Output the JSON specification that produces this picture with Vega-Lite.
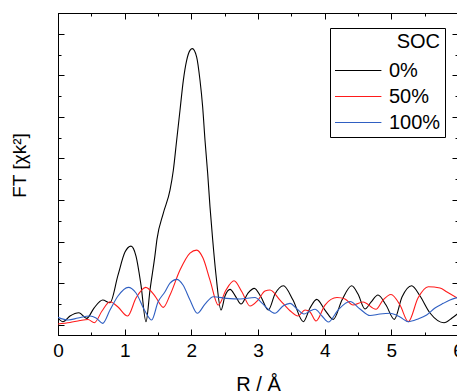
{
  "$schema": "https://vega.github.io/schema/vega-lite/v6.json",
  "autosize": "none",
  "padding": {"left": 58, "top": 13, "right": 0, "bottom": 57},
  "width": 400,
  "height": 322,
  "background": "white",
  "config": {
    "font": "Liberation Sans",
    "view": {"stroke": "black", "strokeWidth": 1},
    "axis": {"domainColor": "black", "tickColor": "black", "labelColor": "black", "titleColor": "black", "grid": false, "labelFont": "Liberation Sans", "titleFont": "Liberation Sans", "titleFontWeight": "normal"}
  },
  "data": {"values": [
    {"R": 0, "FT": 0.159, "SOC": "0%"},
    {"R": 0.075, "FT": 0.07, "SOC": "0%"},
    {"R": 0.18, "FT": 0.207, "SOC": "0%"},
    {"R": 0.315, "FT": 0.286, "SOC": "0%"},
    {"R": 0.431, "FT": 0.151, "SOC": "0%"},
    {"R": 0.54, "FT": 0.399, "SOC": "0%"},
    {"R": 0.671, "FT": 0.591, "SOC": "0%"},
    {"R": 0.78, "FT": 0.526, "SOC": "0%"},
    {"R": 0.9, "FT": 1.192, "SOC": "0%"},
    {"R": 1.005, "FT": 1.745, "SOC": "0%"},
    {"R": 1.095, "FT": 1.889, "SOC": "0%"},
    {"R": 1.17, "FT": 1.649, "SOC": "0%"},
    {"R": 1.245, "FT": 0.952, "SOC": "0%"},
    {"R": 1.32, "FT": 0.07, "SOC": "0%"},
    {"R": 1.38, "FT": 0.832, "SOC": "0%"},
    {"R": 1.455, "FT": 1.673, "SOC": "0%"},
    {"R": 1.485, "FT": 2.058, "SOC": "0%"},
    {"R": 1.58, "FT": 2.683, "SOC": "0%"},
    {"R": 1.68, "FT": 3.236, "SOC": "0%"},
    {"R": 1.73, "FT": 3.716, "SOC": "0%"},
    {"R": 1.78, "FT": 4.438, "SOC": "0%"},
    {"R": 1.83, "FT": 5.159, "SOC": "0%"},
    {"R": 1.88, "FT": 5.88, "SOC": "0%"},
    {"R": 1.93, "FT": 6.361, "SOC": "0%"},
    {"R": 1.98, "FT": 6.601, "SOC": "0%"},
    {"R": 2.015, "FT": 6.642, "SOC": "0%"},
    {"R": 2.08, "FT": 6.44, "SOC": "0%"},
    {"R": 2.13, "FT": 5.88, "SOC": "0%"},
    {"R": 2.17, "FT": 5.238, "SOC": "0%"},
    {"R": 2.205, "FT": 4.438, "SOC": "0%"},
    {"R": 2.245, "FT": 3.644, "SOC": "0%"},
    {"R": 2.28, "FT": 2.834, "SOC": "0%"},
    {"R": 2.32, "FT": 2.05, "SOC": "0%"},
    {"R": 2.37, "FT": 1.194, "SOC": "0%"},
    {"R": 2.445, "FT": 0.351, "SOC": "0%"},
    {"R": 2.505, "FT": 0.688, "SOC": "0%"},
    {"R": 2.58, "FT": 0.849, "SOC": "0%"},
    {"R": 2.67, "FT": 0.663, "SOC": "0%"},
    {"R": 2.745, "FT": 0.495, "SOC": "0%"},
    {"R": 2.85, "FT": 0.76, "SOC": "0%"},
    {"R": 2.945, "FT": 0.873, "SOC": "0%"},
    {"R": 3.045, "FT": 0.663, "SOC": "0%"},
    {"R": 3.155, "FT": 0.351, "SOC": "0%"},
    {"R": 3.255, "FT": 0.736, "SOC": "0%"},
    {"R": 3.38, "FT": 0.935, "SOC": "0%"},
    {"R": 3.525, "FT": 0.591, "SOC": "0%"},
    {"R": 3.68, "FT": 0.07, "SOC": "0%"},
    {"R": 3.78, "FT": 0.399, "SOC": "0%"},
    {"R": 3.88, "FT": 0.608, "SOC": "0%"},
    {"R": 4.005, "FT": 0.351, "SOC": "0%"},
    {"R": 4.13, "FT": 0.127, "SOC": "0%"},
    {"R": 4.26, "FT": 0.591, "SOC": "0%"},
    {"R": 4.405, "FT": 0.935, "SOC": "0%"},
    {"R": 4.5, "FT": 0.736, "SOC": "0%"},
    {"R": 4.605, "FT": 0.375, "SOC": "0%"},
    {"R": 4.695, "FT": 0.54, "SOC": "0%"},
    {"R": 4.8, "FT": 0.712, "SOC": "0%"},
    {"R": 4.92, "FT": 0.471, "SOC": "0%"},
    {"R": 5.045, "FT": 0.127, "SOC": "0%"},
    {"R": 5.16, "FT": 0.663, "SOC": "0%"},
    {"R": 5.305, "FT": 0.935, "SOC": "0%"},
    {"R": 5.43, "FT": 0.688, "SOC": "0%"},
    {"R": 5.58, "FT": 0.279, "SOC": "0%"},
    {"R": 5.79, "FT": 0.046, "SOC": "0%"},
    {"R": 5.91, "FT": 0.159, "SOC": "0%"},
    {"R": 6.0, "FT": 0.27, "SOC": "0%"},
    {"R": 0, "FT": 0.014, "SOC": "50%"},
    {"R": 0.18, "FT": 0.05, "SOC": "50%"},
    {"R": 0.33, "FT": 0.099, "SOC": "50%"},
    {"R": 0.45, "FT": 0.123, "SOC": "50%"},
    {"R": 0.545, "FT": 0.046, "SOC": "50%"},
    {"R": 0.66, "FT": 0.327, "SOC": "50%"},
    {"R": 0.78, "FT": 0.55, "SOC": "50%"},
    {"R": 0.9, "FT": 0.423, "SOC": "50%"},
    {"R": 1.045, "FT": 0.207, "SOC": "50%"},
    {"R": 1.17, "FT": 0.639, "SOC": "50%"},
    {"R": 1.315, "FT": 0.897, "SOC": "50%"},
    {"R": 1.455, "FT": 0.688, "SOC": "50%"},
    {"R": 1.58, "FT": 0.416, "SOC": "50%"},
    {"R": 1.68, "FT": 0.712, "SOC": "50%"},
    {"R": 1.83, "FT": 1.313, "SOC": "50%"},
    {"R": 1.98, "FT": 1.721, "SOC": "50%"},
    {"R": 2.08, "FT": 1.793, "SOC": "50%"},
    {"R": 2.175, "FT": 1.601, "SOC": "50%"},
    {"R": 2.28, "FT": 1.072, "SOC": "50%"},
    {"R": 2.405, "FT": 0.471, "SOC": "50%"},
    {"R": 2.52, "FT": 0.832, "SOC": "50%"},
    {"R": 2.64, "FT": 1.055, "SOC": "50%"},
    {"R": 2.76, "FT": 0.784, "SOC": "50%"},
    {"R": 2.88, "FT": 0.447, "SOC": "50%"},
    {"R": 3.0, "FT": 0.591, "SOC": "50%"},
    {"R": 3.105, "FT": 0.808, "SOC": "50%"},
    {"R": 3.18, "FT": 0.832, "SOC": "50%"},
    {"R": 3.33, "FT": 0.591, "SOC": "50%"},
    {"R": 3.48, "FT": 0.334, "SOC": "50%"},
    {"R": 3.6, "FT": 0.207, "SOC": "50%"},
    {"R": 3.705, "FT": 0.351, "SOC": "50%"},
    {"R": 3.78, "FT": 0.303, "SOC": "50%"},
    {"R": 3.87, "FT": 0.087, "SOC": "50%"},
    {"R": 4.005, "FT": 0.471, "SOC": "50%"},
    {"R": 4.185, "FT": 0.651, "SOC": "50%"},
    {"R": 4.305, "FT": 0.615, "SOC": "50%"},
    {"R": 4.425, "FT": 0.471, "SOC": "50%"},
    {"R": 4.575, "FT": 0.543, "SOC": "50%"},
    {"R": 4.77, "FT": 0.368, "SOC": "50%"},
    {"R": 4.875, "FT": 0.591, "SOC": "50%"},
    {"R": 4.995, "FT": 0.724, "SOC": "50%"},
    {"R": 5.13, "FT": 0.471, "SOC": "50%"},
    {"R": 5.255, "FT": 0.07, "SOC": "50%"},
    {"R": 5.4, "FT": 0.639, "SOC": "50%"},
    {"R": 5.555, "FT": 0.911, "SOC": "50%"},
    {"R": 5.73, "FT": 0.88, "SOC": "50%"},
    {"R": 5.835, "FT": 0.784, "SOC": "50%"},
    {"R": 6.0, "FT": 0.632, "SOC": "50%"},
    {"R": 0, "FT": 0.175, "SOC": "100%"},
    {"R": 0.155, "FT": 0.111, "SOC": "100%"},
    {"R": 0.3, "FT": 0.159, "SOC": "100%"},
    {"R": 0.48, "FT": 0.207, "SOC": "100%"},
    {"R": 0.57, "FT": 0.159, "SOC": "100%"},
    {"R": 0.67, "FT": 0.031, "SOC": "100%"},
    {"R": 0.78, "FT": 0.351, "SOC": "100%"},
    {"R": 0.9, "FT": 0.688, "SOC": "100%"},
    {"R": 1.055, "FT": 0.897, "SOC": "100%"},
    {"R": 1.17, "FT": 0.76, "SOC": "100%"},
    {"R": 1.305, "FT": 0.327, "SOC": "100%"},
    {"R": 1.405, "FT": 0.111, "SOC": "100%"},
    {"R": 1.5, "FT": 0.543, "SOC": "100%"},
    {"R": 1.605, "FT": 0.791, "SOC": "100%"},
    {"R": 1.68, "FT": 1.0, "SOC": "100%"},
    {"R": 1.78, "FT": 1.089, "SOC": "100%"},
    {"R": 1.875, "FT": 0.952, "SOC": "100%"},
    {"R": 1.98, "FT": 0.591, "SOC": "100%"},
    {"R": 2.09, "FT": 0.272, "SOC": "100%"},
    {"R": 2.205, "FT": 0.495, "SOC": "100%"},
    {"R": 2.33, "FT": 0.671, "SOC": "100%"},
    {"R": 2.53, "FT": 0.632, "SOC": "100%"},
    {"R": 2.73, "FT": 0.615, "SOC": "100%"},
    {"R": 2.955, "FT": 0.651, "SOC": "100%"},
    {"R": 3.06, "FT": 0.519, "SOC": "100%"},
    {"R": 3.15, "FT": 0.375, "SOC": "100%"},
    {"R": 3.255, "FT": 0.272, "SOC": "100%"},
    {"R": 3.375, "FT": 0.447, "SOC": "100%"},
    {"R": 3.48, "FT": 0.512, "SOC": "100%"},
    {"R": 3.585, "FT": 0.375, "SOC": "100%"},
    {"R": 3.69, "FT": 0.255, "SOC": "100%"},
    {"R": 3.78, "FT": 0.327, "SOC": "100%"},
    {"R": 3.855, "FT": 0.368, "SOC": "100%"},
    {"R": 3.96, "FT": 0.207, "SOC": "100%"},
    {"R": 4.055, "FT": 0.063, "SOC": "100%"},
    {"R": 4.2, "FT": 0.351, "SOC": "100%"},
    {"R": 4.38, "FT": 0.555, "SOC": "100%"},
    {"R": 4.53, "FT": 0.375, "SOC": "100%"},
    {"R": 4.68, "FT": 0.219, "SOC": "100%"},
    {"R": 4.83, "FT": 0.255, "SOC": "100%"},
    {"R": 4.98, "FT": 0.272, "SOC": "100%"},
    {"R": 5.13, "FT": 0.183, "SOC": "100%"},
    {"R": 5.255, "FT": 0.07, "SOC": "100%"},
    {"R": 5.4, "FT": 0.135, "SOC": "100%"},
    {"R": 5.53, "FT": 0.231, "SOC": "100%"},
    {"R": 5.655, "FT": 0.399, "SOC": "100%"},
    {"R": 5.78, "FT": 0.512, "SOC": "100%"},
    {"R": 5.88, "FT": 0.591, "SOC": "100%"},
    {"R": 6.0, "FT": 0.656, "SOC": "100%"}
  ]},
  "layer": [
    {
      "mark": {"type": "line", "interpolate": "monotone", "strokeWidth": 1.1, "clip": true},
      "encoding": {
        "x": {"field": "R", "type": "quantitative", "scale": {"domain": [0, 6], "nice": false},
          "axis": {"orient": "bottom", "title": "R / Å", "titleFontSize": 20, "titlePadding": 11, "labelFontSize": 19, "labelPadding": 12, "labelFlush": false, "labelOverlap": false,
            "values": [0, 0.5, 1, 1.5, 2, 2.5, 3, 3.5, 4, 4.5, 5, 5.5, 6],
            "labelExpr": "datum.value % 1 === 0 ? format(datum.value, 'd') : ''",
            "tickSize": {"condition": {"test": "datum.value % 1 === 0", "value": -6}, "value": -3}}},
        "y": {"field": "FT", "type": "quantitative", "scale": {"domain": [-0.25, 7.5], "nice": false, "zero": false},
          "axis": {"orient": "left", "title": "FT [χk²]", "titleFontSize": 19, "titlePadding": 28, "titleY": 152, "labels": false,
            "values": [0, 0.5, 1, 1.5, 2, 2.5, 3, 3.5, 4, 4.5, 5, 5.5, 6, 6.5, 7, 7.5],
            "tickSize": {"condition": {"test": "datum.value % 1 === 0", "value": -6}, "value": -3}}},
        "color": {"field": "SOC", "type": "nominal", "sort": ["0%", "50%", "100%"],
          "scale": {"domain": ["0%", "50%", "100%"], "range": ["#000000", "#ff1a1a", "#2f5fc2"]},
          "legend": {"orient": "none", "legendX": 272, "legendY": 15, "title": "SOC  ", "titleFontSize": 20, "titleFont": "Liberation Sans", "titleFontWeight": "normal", "titleAnchor": "end", "titleColor": "black",
            "labelFontSize": 20, "labelColor": "black", "labelFont": "Liberation Sans", "symbolType": "M-1,0H2.2", "symbolSize": 841, "symbolStrokeWidth": 1.2, "symbolFillColor": "transparent", "labelOffset": 24, "rowPadding": 0,
            "padding": 4, "strokeColor": "black", "fillColor": "white", "titlePadding": 3}}
      }
    },
    {
      "mark": {"type": "line", "strokeOpacity": 0, "interpolate": "monotone"},
      "encoding": {
        "detail": {"field": "SOC"},
        "x": {"field": "R", "type": "quantitative",
          "axis": {"orient": "top", "title": null, "labels": false,
            "values": [0, 0.5, 1, 1.5, 2, 2.5, 3, 3.5, 4, 4.5, 5, 5.5, 6],
            "tickSize": {"condition": {"test": "datum.value % 1 === 0", "value": -6}, "value": -3}}},
        "y": {"field": "FT", "type": "quantitative",
          "axis": {"orient": "right", "title": null, "labels": false,
            "values": [0, 0.5, 1, 1.5, 2, 2.5, 3, 3.5, 4, 4.5, 5, 5.5, 6, 6.5, 7, 7.5],
            "tickSize": {"condition": {"test": "datum.value % 1 === 0", "value": -6}, "value": -3}}}
      }
    }
  ],
  "resolve": {"axis": {"x": "independent", "y": "independent"}}
}
